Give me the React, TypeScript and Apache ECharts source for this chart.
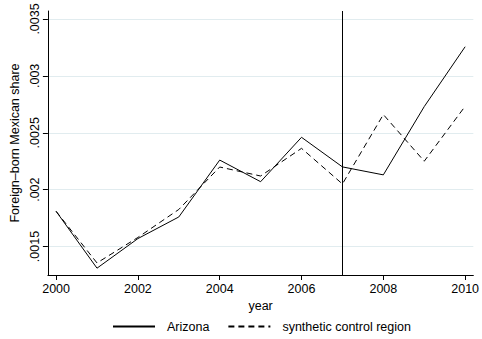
import React, { useEffect, useRef } from "react";
import * as echarts from "echarts";

const years = [2000, 2001, 2002, 2003, 2004, 2005, 2006, 2007, 2008, 2009, 2010];
const arizona = [0.00181, 0.00131, 0.00157, 0.00176, 0.00226, 0.00207, 0.00246, 0.0022, 0.00213, 0.00273, 0.003256];
const synthetic = [0.00181, 0.001356, 0.00158, 0.001826, 0.002199, 0.00212, 0.002363, 0.00205, 0.00266, 0.00225, 0.002733];
const xTicks = [2000, 2002, 2004, 2006, 2008, 2010];
const yTicks = [0.0015, 0.002, 0.0025, 0.003, 0.0035];
const treatmentYear = 2007;

const FONT = "Liberation Sans, Arial, Helvetica, sans-serif";

export default function App() {
  const ref = useRef<HTMLDivElement>(null);
  useEffect(() => {
    document.body.style.margin = "0";
    if (!ref.current) return;
    const chart = echarts.init(ref.current, null, { renderer: "svg" });
    const fmtY = (v: number) => parseFloat(Number(v).toFixed(5)).toString().replace(/^0/, "");
    chart.setOption({
      animation: false,
      backgroundColor: "#fff",
      textStyle: { fontFamily: FONT },
      grid: { left: 45, right: 6, top: 11, bottom: 64, containLabel: false },
      legend: {
        left: 112,
        bottom: 6,
        padding: 0,
        itemWidth: 42,
        itemHeight: 10,
        itemGap: 18,
        itemStyle: { color: "rgba(0,0,0,0)", borderColor: "rgba(0,0,0,0)", borderWidth: 0, opacity: 0 },
        textStyle: { color: "#000", fontSize: 12.5, fontFamily: FONT, padding: [0, 0, 0, 7] },
        data: ["Arizona", "synthetic control region"],
      },
      xAxis: {
        type: "value",
        min: 1999.8,
        max: 2010.2,
        name: "year",
        nameLocation: "middle",
        nameGap: 21,
        nameTextStyle: { color: "#000", fontSize: 12.5, fontFamily: FONT },
        axisLine: { show: true, lineStyle: { color: "#000", width: 1 } },
        axisTick: { show: true, length: 5, customValues: xTicks, lineStyle: { color: "#000" } },
        axisLabel: { customValues: xTicks, color: "#000", fontSize: 12.5, margin: 7, fontFamily: FONT, formatter: (v: number) => String(Math.round(v)) },
        splitLine: { show: false },
      },
      yAxis: {
        type: "value",
        min: 0.00125,
        max: 0.00357,
        name: "Foreign\u2013born Mexican share",
        nameLocation: "middle",
        nameGap: 19,
        nameTextStyle: { color: "#000", fontSize: 12.5, fontFamily: FONT },
        axisLine: { show: true, lineStyle: { color: "#000", width: 1 } },
        axisTick: { show: true, length: 5, customValues: yTicks, lineStyle: { color: "#000" } },
        axisLabel: { customValues: yTicks, rotate: 90, color: "#000", fontSize: 12.5, margin: 6, fontFamily: FONT, formatter: fmtY },
        splitLine: { show: true, lineStyle: { color: "#e1ecef", width: 1 } },
      },
      series: [
        {
          name: "Arizona",
          type: "line",
          data: years.map((y, i) => [y, arizona[i]]),
          symbol: "none",
          lineStyle: { color: "#000", width: 1, type: "solid" },
          itemStyle: { color: "#000" },
          markLine: {
            silent: true,
            symbol: "none",
            label: { show: false },
            lineStyle: { color: "#000", width: 1, type: "solid" },
            data: [{ xAxis: treatmentYear }],
          },
        },
        {
          name: "synthetic control region",
          type: "line",
          data: years.map((y, i) => [y, synthetic[i]]),
          symbol: "none",
          lineStyle: { color: "#000", width: 1, type: [6, 4] },
          itemStyle: { color: "#000" },
        },
      ],
    });
    return () => chart.dispose();
  }, []);
  return <div ref={ref} style={{ width: 482, height: 339 }} />;
}
